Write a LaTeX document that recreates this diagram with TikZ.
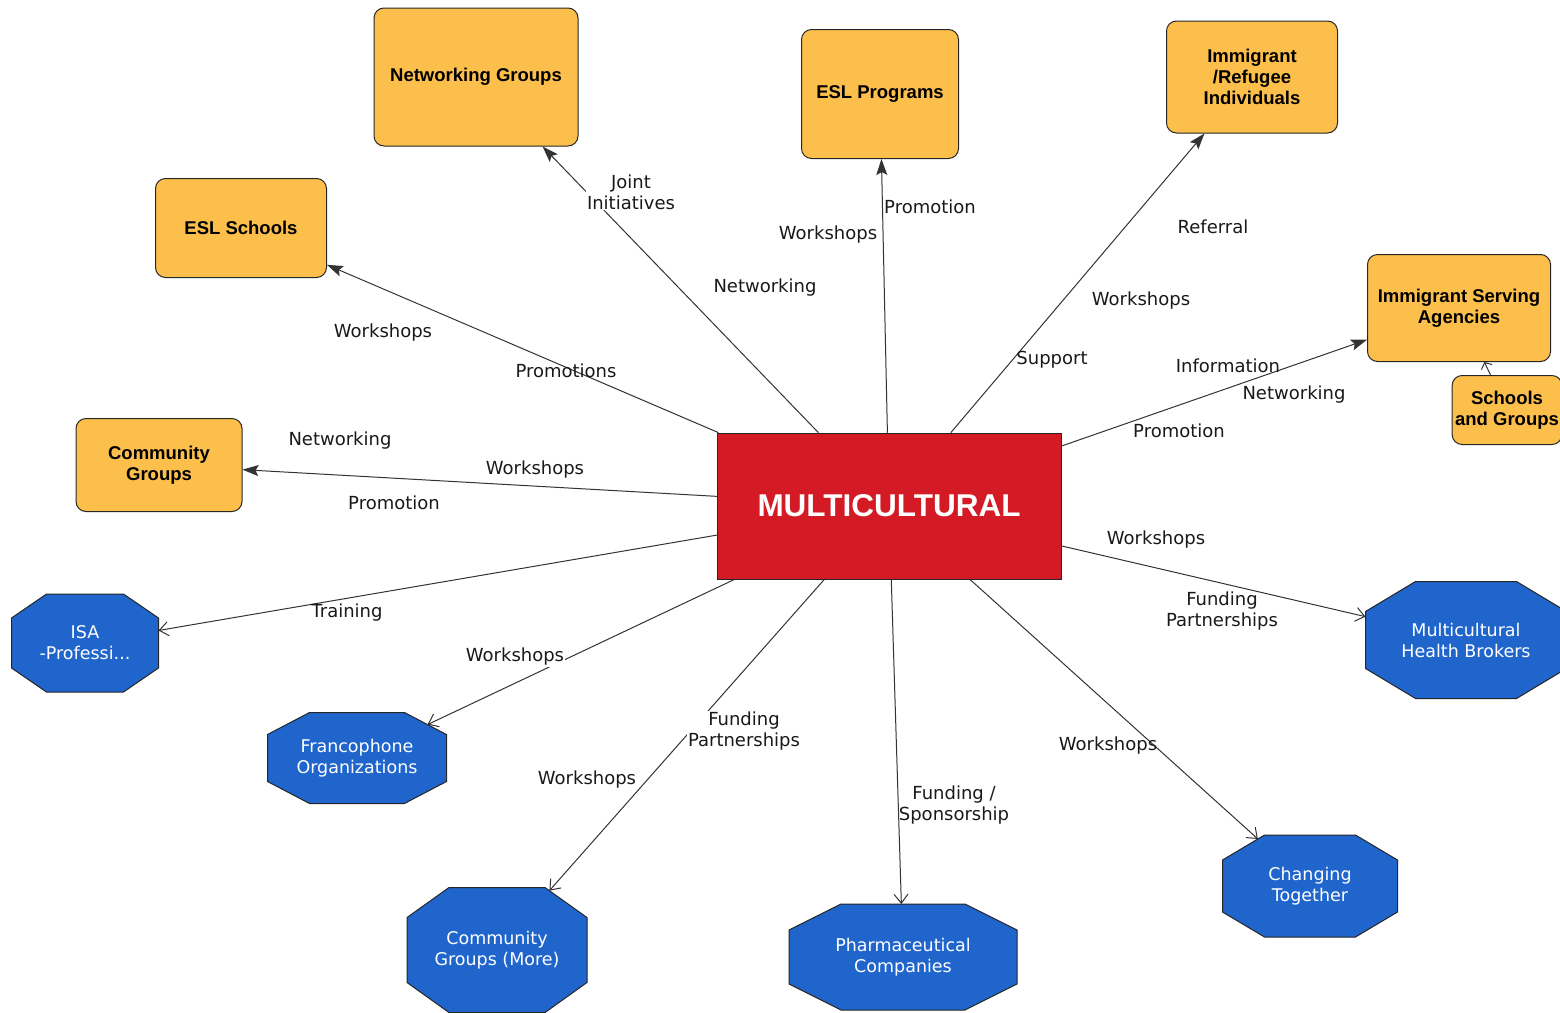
\documentclass[tikz,border=0pt]{standalone}
\usepackage{fontspec}
\setmainfont{DejaVu Sans}
\newfontfamily\arialfont{Liberation Sans}
\usetikzlibrary{arrows.meta}
\definecolor{orng}{RGB}{253,191,75}
\definecolor{blu}{RGB}{31,101,204}
\definecolor{redm}{RGB}{212,26,36}
\pgfkeys{/pgf/oct cx/.initial=40pt,/pgf/oct cy/.initial=27pt}
\makeatletter
\pgfdeclareshape{octbox}{%
  \inheritsavedanchors[from=rectangle]%
  \inheritanchor[from=rectangle]{center}%
  \inheritanchor[from=rectangle]{north}%
  \inheritanchor[from=rectangle]{south}%
  \inheritanchor[from=rectangle]{east}%
  \inheritanchor[from=rectangle]{west}%
  \saveddimen\octcx{\pgfmathsetlength\pgf@x{\pgfkeysvalueof{/pgf/oct cx}}}%
  \saveddimen\octcy{\pgfmathsetlength\pgf@x{\pgfkeysvalueof{/pgf/oct cy}}}%
  \backgroundpath{%
    \southwest\edef\oct@xa{\the\pgf@x}\edef\oct@ya{\the\pgf@y}%
    \northeast\edef\oct@xb{\the\pgf@x}\edef\oct@yb{\the\pgf@y}%
    \edef\oct@cx{\octcx}\edef\oct@cy{\octcy}%
    \pgfpathmoveto{\pgfpoint{\oct@xa+\oct@cx}{\oct@yb}}%
    \pgfpathlineto{\pgfpoint{\oct@xb-\oct@cx}{\oct@yb}}%
    \pgfpathlineto{\pgfpoint{\oct@xb}{\oct@yb-\oct@cy}}%
    \pgfpathlineto{\pgfpoint{\oct@xb}{\oct@ya+\oct@cy}}%
    \pgfpathlineto{\pgfpoint{\oct@xb-\oct@cx}{\oct@ya}}%
    \pgfpathlineto{\pgfpoint{\oct@xa+\oct@cx}{\oct@ya}}%
    \pgfpathlineto{\pgfpoint{\oct@xa}{\oct@ya+\oct@cy}}%
    \pgfpathlineto{\pgfpoint{\oct@xa}{\oct@yb-\oct@cy}}%
    \pgfpathclose
  }%
  \anchorborder{%
    \edef\oct@dx{\the\pgf@x}\edef\oct@dy{\the\pgf@y}%
    \southwest\edef\oct@xa{\the\pgf@x}\edef\oct@ya{\the\pgf@y}%
    \northeast\edef\oct@xb{\the\pgf@x}\edef\oct@yb{\the\pgf@y}%
    \edef\oct@cx{\octcx}\edef\oct@cy{\octcy}%
    \pgfmathsetmacro\oct@a{(\oct@xb-\oct@xa)/2}%
    \pgfmathsetmacro\oct@b{(\oct@yb-\oct@ya)/2}%
    \pgfmathsetmacro\oct@ax{max(abs(\oct@dx),0.01)}%
    \pgfmathsetmacro\oct@ay{max(abs(\oct@dy),0.01)}%
    \pgfmathsetmacro\oct@t{min(\oct@a/\oct@ax,\oct@b/\oct@ay,(\oct@a/\oct@cx+\oct@b/\oct@cy-1)/(\oct@ax/\oct@cx+\oct@ay/\oct@cy))}%
    \pgfmathsetmacro\oct@rx{(\oct@xb+\oct@xa)/2+\oct@t*\oct@dx}%
    \pgfmathsetmacro\oct@ry{(\oct@yb+\oct@ya)/2+\oct@t*\oct@dy}%
    \pgf@x=\oct@rx pt\relax
    \pgf@y=\oct@ry pt\relax
  }%
}
\makeatother
\begin{document}
\begin{tikzpicture}[x=1pt,y=-1pt,line cap=round,
    orangebox/.style={draw=black!85,line width=1pt,fill=orng,rounded corners=10pt,align=center,inner sep=3pt,
      font=\arialfont\bfseries\fontsize{18.5}{21}\selectfont},
    bluebox/.style={octbox,draw=black!85,line width=1pt,fill=blu,text=white,align=center,inner sep=1pt,
      font=\fontsize{17.5}{21}\selectfont},
    multibox/.style={draw=black!85,line width=1pt,fill=redm,text=white,
      font=\arialfont\bfseries\fontsize{31.5}{34}\selectfont},
    lbl/.style={text=black!90,align=center,inner sep=1pt,font=\fontsize{18}{21}\selectfont},
    link/.style={draw=black!80,line width=1pt},
    filltip/.style={link,-{Stealth[length=16pt,width=11pt,inset=3pt]}},
    opentip/.style={link,-{Straight Barb[length=9pt,width=14pt]}}]
  \useasboundingbox (0,0) rectangle (1560,1012);
  \node[multibox,minimum width=344pt,minimum height=146pt] (multi) at (889,506) {MULTICULTURAL};
  \node[orangebox,minimum width=204pt,minimum height=138pt] (netg) at (476,77) {Networking Groups};
  \node[orangebox,minimum width=157pt,minimum height=129pt] (eslp) at (880,94) {ESL Programs};
  \node[orangebox,minimum width=171pt,minimum height=112pt] (immi) at (1252,77) {Immigrant\\/Refugee\\Individuals};
  \node[orangebox,minimum width=171pt,minimum height=99pt] (esls) at (241,228) {ESL Schools};
  \node[orangebox,minimum width=183pt,minimum height=107pt] (isag) at (1459,308) {Immigrant Serving\\Agencies};
  \node[orangebox,minimum width=108pt,minimum height=69pt] (schg) at (1507,410) {Schools\\and Groups};
  \node[orangebox,minimum width=166pt,minimum height=93pt] (comg) at (159,465) {Community\\Groups};
  \node[bluebox,minimum width=146pt,minimum height=97pt,oct cx=35pt,oct cy=24pt] (isap) at (85,643) {ISA\\-Professi...};
  \node[bluebox,minimum width=178pt,minimum height=90pt,oct cx=42pt,oct cy=22pt] (fran) at (357,758) {Francophone\\Organizations};
  \node[bluebox,minimum width=179pt,minimum height=124pt,oct cx=42pt,oct cy=30pt] (cgmo) at (497,950) {Community\\Groups (More)};
  \node[bluebox,minimum width=227pt,minimum height=105pt,oct cx=52pt,oct cy=26pt] (phar) at (903,957) {Pharmaceutical\\Companies};
  \node[bluebox,minimum width=174pt,minimum height=101pt,oct cx=42pt,oct cy=25pt] (chto) at (1310,886) {Changing\\Together};
  \node[bluebox,minimum width=200pt,minimum height=116pt,oct cx=50pt,oct cy=30pt] (mhb) at (1466,640) {Multicultural\\Health Brokers};
  \draw[filltip] (multi) -- (netg);
  \draw[filltip] (multi) -- (eslp);
  \draw[filltip] (multi) -- (immi);
  \draw[filltip] (multi) -- (esls);
  \draw[filltip] (multi) -- (isag);
  \draw[filltip] (multi) -- (comg);
  \draw[opentip] (multi) -- (isap);
  \draw[opentip] (multi) -- (fran);
  \draw[opentip] (multi) -- (cgmo);
  \draw[opentip] (multi) -- (phar);
  \draw[opentip] (multi) -- (chto);
  \draw[opentip] (multi) -- (mhb);
  \draw[link,-{Straight Barb[length=5pt,width=12pt]}] (schg) -- (isag);
  \node[lbl,fill=white] (l-joint) at (631,192) {Joint\\Initiatives};
  \node[lbl] (l-netw1) at (765,288) {Networking};
  \node[lbl] (l-prom1) at (930,207) {Promotion};
  \node[lbl] (l-work1) at (828,235) {Workshops};
  \node[lbl] (l-refe) at (1213,227) {Referral};
  \node[lbl] (l-work2) at (1141,301) {Workshops};
  \node[lbl] (l-supp) at (1052,360) {Support};
  \node[lbl] (l-work3) at (383,333) {Workshops};
  \node[lbl] (l-prom2) at (566,371) {Promotions};
  \node[lbl] (l-info) at (1228,366) {Information};
  \node[lbl] (l-netw2) at (1294,395) {Networking};
  \node[lbl] (l-prom3) at (1179,431) {Promotion};
  \node[lbl] (l-netw3) at (340,441) {Networking};
  \node[lbl] (l-work4) at (535,470) {Workshops};
  \node[lbl] (l-prom4) at (394,503) {Promotion};
  \node[lbl] (l-trai) at (347,613) {Training};
  \node[lbl,fill=white] (l-work5) at (515,657) {Workshops};
  \node[lbl,fill=white] (l-fund1) at (744,731) {Funding\\Partnerships};
  \node[lbl] (l-work6) at (587,780) {Workshops};
  \node[lbl] (l-fund2) at (954,805) {Funding /\\Sponsorship};
  \node[lbl] (l-work7) at (1108,746) {Workshops};
  \node[lbl] (l-work8) at (1156,540) {Workshops};
  \node[lbl] (l-fund3) at (1222,611) {Funding\\Partnerships};
\end{tikzpicture}
\end{document}
